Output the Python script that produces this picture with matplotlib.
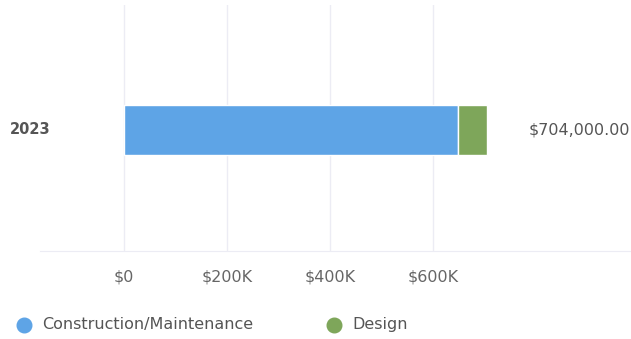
import matplotlib
matplotlib.use("Agg")
import matplotlib.pyplot as plt
from matplotlib.lines import Line2D

plt.rcParams['font.family'] = ['DejaVu Sans']

# data
years = ["2023"]
series = ["Construction/Maintenance", "Design"]
values = {
    "Construction/Maintenance": [648000],
    "Design": [56000],
}
colors = ["#5EA4E6", "#7EA65A"]
tick_values = [0, 200000, 400000, 600000]
tick_labels = ["$0", "$200K", "$400K", "$600K"]

W, H = 631, 339
fig = plt.figure(figsize=(W / 100, H / 100), dpi=100)

# axes spans 40px..630px, zero sits at x=124px
left_px, right_px = 40, 630
zero_px, px_per_unit = 124, 103 / 200000
ax = fig.add_axes([left_px / W, (H - 251) / H, (right_px - left_px) / W, (251 - 5) / H])
ax.set_xlim(-(zero_px - left_px) / px_per_unit, (right_px - zero_px) / px_per_unit)
ax.set_ylim(-0.984, 1.016)

left = [0] * len(years)
for name, c in zip(series, colors):
    vals = values[name]
    ax.barh([0], vals, left=left, height=0.40, color=c, edgecolor="white", linewidth=1, zorder=3)
    left = [a + b for a, b in zip(left, vals)]

total = left[0]
ax.text(1.0, 0.0, "${:,.2f}".format(total), transform=ax.get_yaxis_transform(),
        ha="right", va="center", fontsize=11.5, color="#555555")
fig.text(10 / W, (H - 130) / H, years[0], ha="left", va="center",
         fontsize=10.5, fontweight="bold", color="#555555")

ax.set_xticks(tick_values)
ax.set_xticklabels(tick_labels, fontsize=11.5, color="#666666")
ax.tick_params(axis="x", length=0, pad=13)
ax.set_yticks([])
ax.grid(axis="x", color="#ECECF4", linewidth=1, zorder=0)
for s in ["top", "right", "left"]:
    ax.spines[s].set_visible(False)
ax.spines["bottom"].set_color("#ECECF4")

# legend
legend_x = [24, 334]
for name, c, x in zip(series, colors, legend_x):
    fig.add_artist(Line2D([x / W], [(H - 325) / H], marker="o", markersize=10.5,
                          color=c, linestyle="none", transform=fig.transFigure))
    fig.text((x + 18) / W, (H - 325) / H, name, ha="left", va="center",
             fontsize=11.5, color="#555555")

fig.savefig("out.png", dpi=100)
